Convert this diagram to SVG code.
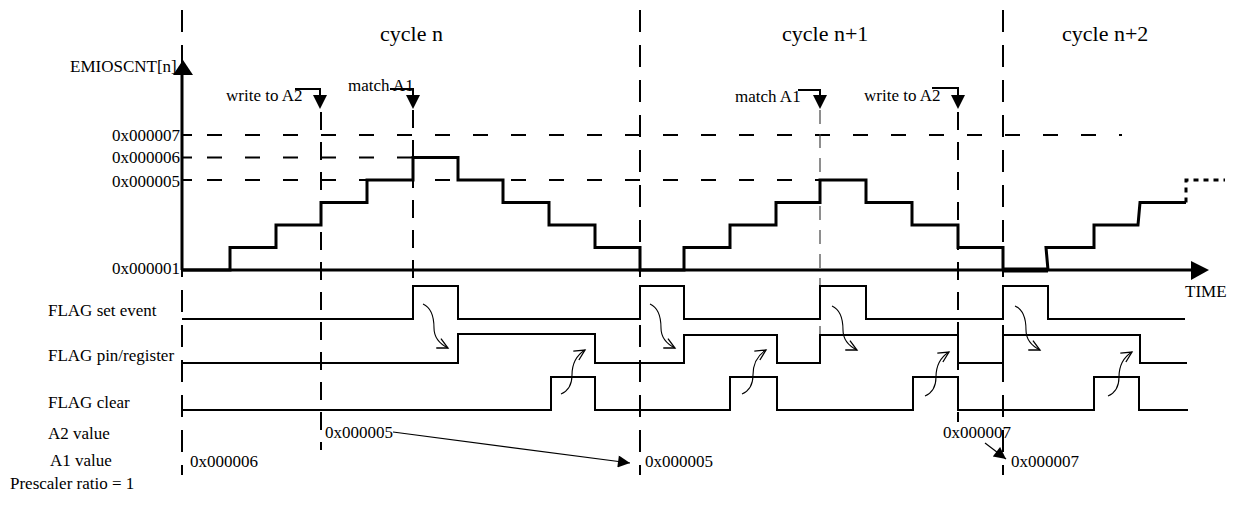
<svg xmlns="http://www.w3.org/2000/svg" width="1235" height="507" viewBox="0 0 1235 507">
<style>
text{font-family:"Liberation Serif","Times New Roman",serif;font-size:17px;fill:#000}
.cyc{font-size:22px}
.ax{stroke:#000;stroke-width:3;fill:none}
.stair{stroke:#000;stroke-width:3;fill:none;stroke-linejoin:miter}
.sig{stroke:#000;stroke-width:2;fill:none}
.grid{stroke:#000;stroke-width:2;stroke-dasharray:15 23;fill:none}
.vd{stroke:#000;stroke-width:2;stroke-dasharray:22 13;fill:none}
.vd2{stroke:#000;stroke-width:2;stroke-dasharray:18 12;fill:none}
.vthin{stroke:#444;stroke-width:1.2;stroke-dasharray:14 10;fill:none}
.curve{stroke:#000;stroke-width:1.1;fill:none;marker-end:url(#open)}
.ptr{stroke:#000;stroke-width:1.2;fill:none;marker-end:url(#solid)}
.bk{stroke:#000;stroke-width:2;fill:none}
</style>
<defs>
<marker id="open" markerUnits="userSpaceOnUse" markerWidth="14" markerHeight="14" refX="10" refY="5" orient="auto" viewBox="0 0 12 10">
<path d="M1,0.5 L10,5 L1,9.5" fill="none" stroke="#000" stroke-width="1.1"/>
</marker>
<marker id="solid" markerUnits="userSpaceOnUse" markerWidth="14" markerHeight="12" refX="12" refY="6" orient="auto" viewBox="0 0 12 12">
<path d="M0,0 L12,6 L0,12 Z" fill="#000"/>
</marker>
</defs>

<g id="gridlines">
<path class="grid" d="M207,135 H1122"/>
<path class="grid" d="M207,157.5 H413"/>
<path class="grid" d="M207,180 H820"/>
<path class="bk" d="M182,135 H192 M182,157.5 H192 M182,180 H192"/>
</g>

<g id="cycle-boundaries">
<path class="vd" d="M182,10 V475"/>
<path class="vd" d="M640,10 V475"/>
<path class="vd" d="M1003,10 V475"/>
</g>

<g id="event-lines">
<path class="vd2" d="M321,112 V450"/>
<path class="vd2" d="M413,110 V286"/>
<path class="vthin" d="M820,110 V335"/>
<path class="vd2" d="M958,112 V422"/>
</g>

<g id="axes">
<path class="ax" d="M182,72 V270"/>
<path d="M183,60 L173,75 L193,75 Z" fill="#000"/>
<path class="ax" d="M182,270 H1194"/>
<path d="M1191,261 L1209,270 L1191,280 Z" fill="#000"/>
</g>

<g id="counter">
<path class="stair" d="M182,270 H230 V247.5 H276 V225 H321 V202.5 H367 V180 H413 V157.5 H458 V180 H503 V202.5 H549 V225 H595 V247.5 H640 V270 H684 V247.5 H730 V225 H776 V202.5 H820 V180 H866 V202.5 H912 V225 H958 V247.5 H1003 V270"/>
<path d="M1003,270 H1048" stroke="#000" stroke-width="5"/>
<path class="stair" d="M1048,270 L1046,247.5 H1094 V225 H1138 L1140,202.5 H1186"/>
<path d="M1186,202.5 V180 H1225" stroke="#000" stroke-width="3" fill="none" stroke-dasharray="5 5"/>
</g>

<g id="flag-set-event">
<path class="sig" d="M182,319 H413 V286 H458 V319 H640 V286 H684 V319 H820 V286 H866 V319 H1003 V286 H1048 V319 H1185"/>
</g>
<g id="flag-pin-register">
<path class="sig" d="M182,363 H458 V334 H595 V363 H684 V335 H777 V363 H820 V335 H958 V363 H1003 V335 H1140 V363 H1187"/>
</g>
<g id="flag-clear">
<path class="sig" d="M182,410 H551 V377 H595 V410 H730 V377 H777 V410 H913 V377 H958 V410 H1094 V377 H1139 V410 H1188"/>
</g>

<g id="connectors">
<path class="curve" d="M423,304 C432,308 434,318 434,328 C434,338 440,344 448,348"/>
<path class="curve" d="M650,304 C659,308 661,318 661,328 C661,338 667,344 675,348"/>
<path class="curve" d="M832,306 C841,310 843,320 843,330 C843,340 849,346 857,350"/>
<path class="curve" d="M1015,306 C1024,310 1026,320 1026,330 C1026,340 1032,346 1040,350"/>
<path class="curve" d="M561,394 C568,391 572,385 572,375 C572,362 577,355 585,350"/>
<path class="curve" d="M742,394 C749,391 753,385 753,375 C753,362 758,355 766,350"/>
<path class="curve" d="M925,396 C932,393 936,387 936,377 C936,364 941,357 949,352"/>
<path class="curve" d="M1108,396 C1115,393 1119,387 1119,377 C1119,364 1124,357 1132,352"/>
<path class="ptr" d="M393,432 L630,463"/>
<path class="ptr" d="M985,443 L1006,459"/>
</g>

<g id="event-markers">
<path class="bk" d="M295,89 H320 V96"/>
<path d="M313,95 L327,95 L320,109 Z" fill="#000"/>
<path class="bk" d="M390,89 H413 V96"/>
<path d="M406,95 L420,95 L413,109 Z" fill="#000"/>
<path class="bk" d="M798,90 H820 V96"/>
<path d="M813,95 L827,95 L820,109 Z" fill="#000"/>
<path class="bk" d="M932,88 H958 V96"/>
<path d="M951,95 L965,95 L958,109 Z" fill="#000"/>
</g>

<g id="labels">
<text class="cyc" x="380" y="41">cycle n</text>
<text class="cyc" x="782" y="41">cycle n+1</text>
<text class="cyc" x="1062" y="41">cycle n+2</text>
<text x="70" y="72">EMIOSCNT[n]</text>
<text x="226" y="101">write to A2</text>
<text x="348" y="91">match A1</text>
<text x="735" y="102">match A1</text>
<text x="864" y="101">write to A2</text>
<text x="180" y="141" text-anchor="end">0x000007</text>
<text x="180" y="163" text-anchor="end">0x000006</text>
<text x="180" y="187" text-anchor="end">0x000005</text>
<text x="180" y="274" text-anchor="end">0x000001</text>
<text x="1185" y="297">TIME</text>
<text x="48" y="316">FLAG set event</text>
<text x="48" y="361">FLAG pin/register</text>
<text x="48" y="408">FLAG clear</text>
<text x="48" y="439">A2 value</text>
<text x="50" y="466">A1 value</text>
<text x="10" y="489">Prescaler ratio = 1</text>
<text x="325" y="438">0x000005</text>
<text x="190" y="467">0x000006</text>
<text x="645" y="467">0x000005</text>
<text x="943" y="438">0x000007</text>
<text x="1011" y="467">0x000007</text>
</g>
</svg>
